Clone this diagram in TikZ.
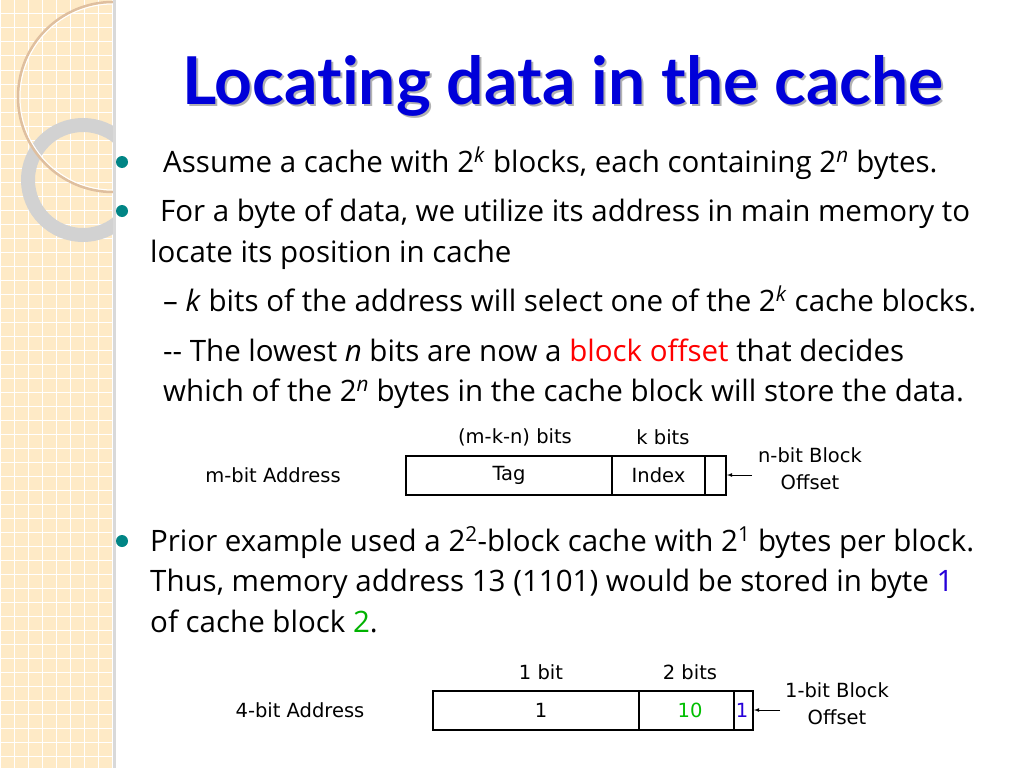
\documentclass[tikz,border=0pt]{standalone}
\usepackage{fontspec}
\setmainfont{Open Sans}[Ligatures=NoCommon]
\newfontfamily\titlefont{Lato}[Ligatures=NoCommon]
\newfontfamily\diagfont{DejaVu Sans}
\begin{document}
\begin{tikzpicture}[x=1pt,y=-1pt,
  body/.style={anchor=base west,inner sep=0pt,font=\fontsize{29.5}{34}\selectfont},
  small/.style={inner sep=0pt,font=\diagfont\fontsize{19.5}{22}\selectfont},
  bul/.style={circle,fill=teal!70!cyan!80!black,minimum size=12pt,inner sep=0pt},
  cell/.style={draw,line width=2pt,minimum height=39pt,inner sep=0pt,anchor=west},
  arr/.style={-latex,line width=0.8pt}]
\useasboundingbox (0,0) rectangle (1024,768);
\fill[white] (0,0) rectangle (1024,768);
% left strip
\fill[yellow!25!orange!20!white] (0,0) rectangle (113,768);
\begin{scope}
\clip (0,0) rectangle (113,768);
\foreach \i in {0,14,...,770} {\draw[white,line width=1pt] (\i,0)--(\i,768); \draw[white,line width=1pt] (0,\i)--(113,\i);}
\draw[gray!35!white,line width=14pt] (83,180) circle (55);
\draw[brown!50!white,line width=2.5pt] (113,97) circle (95);
\draw[white,line width=1pt] (113,97) circle (93);
\end{scope}
\fill[black!15] (113,0) rectangle (116,768);
% title
\node[text=black!30,font=\titlefont\bfseries\fontsize{66}{72}\selectfont] at (565,88) {Locating data in the cache};
\node (title) [text=blue!85!black,font=\titlefont\bfseries\fontsize{66}{72}\selectfont] at (563,86) {Locating data in the cache};
% bullets
\node (b1) [bul] at (122,162) {};
\node (b2) [bul] at (122,211) {};
\node (b3) [bul] at (122,541) {};
\node (l1) [body] at (163,172) {Assume a cache with 2\textsuperscript{\textit{k}} blocks, each containing 2\textsuperscript{\textit{n}} bytes.};
\node (l2) [body] at (160,221) {For a byte of data, we utilize its address in main memory to};
\node (l3) [body] at (150,262) {locate its position in cache};
\node (l4) [body] at (163,311) {-- \textit{k} bits of the address will select one of the 2\textsuperscript{\textit{k}} cache blocks.};
\node (l5) [body] at (163,361) {{-}{-} The lowest \textit{n} bits are now a \textcolor{red}{block offset} that decides};
\node (l6) [body] at (163,401) {which of the 2\textsuperscript{\textit{n}} bytes in the cache block will store the data.};
\node (l7) [body] at (150,551) {Prior example used a 2\textsuperscript{2}-block cache with 2\textsuperscript{1} bytes per block.};
\node (l8) [body] at (150,591) {Thus, memory address 13 (1101) would be stored in byte \textcolor{blue!70!violet}{1}};
\node (l9) [body] at (150,632) {of cache block \textcolor{green!70!black}{2}.};
% diagram 1
\node (tag) [cell,minimum width=206pt] at (405,475) {};
\node (idx) [cell,minimum width=93pt] at (611,475) {};
\node (off) [cell,minimum width=21pt] at (704,475) {};
\node [small] at (tag.center) {Tag};
\node [small] at (idx.center) {Index};
\node (h1) [small] at (515,437) {(m-k-n) bits};
\node (h2) [small] at (663,437) {k bits};
\node (ma) [small] at (273,475) {m-bit Address};
\node (nb) [small,align=center,font=\diagfont\fontsize{19.5}{27}\selectfont] at (810,469) {n-bit Block\\Offset};
\coordinate (a1) at (752,475);
\draw[arr] (a1) -- (off.east);
% diagram 2
\node (t2) [cell,minimum width=206pt] at (432,710) {};
\node (i2) [cell,minimum width=95pt] at (638,710) {};
\node (o2) [cell,minimum width=19pt] at (733,710) {};
\node [small] at (541,710) {1};
\node [small,text=green!75!black] at (690,710) {10};
\node [small,text=blue!70!violet] at (742,710) {1};
\node (h3) [small] at (541,672) {1 bit};
\node (h4) [small] at (690,672) {2 bits};
\node (fa) [small] at (300,710) {4-bit Address};
\node (ob) [small,align=center,font=\diagfont\fontsize{19.5}{27}\selectfont] at (837,704) {1-bit Block\\Offset};
\coordinate (a2) at (780,710);
\draw[arr] (a2) -- (o2.east);
\end{tikzpicture}
\end{document}
